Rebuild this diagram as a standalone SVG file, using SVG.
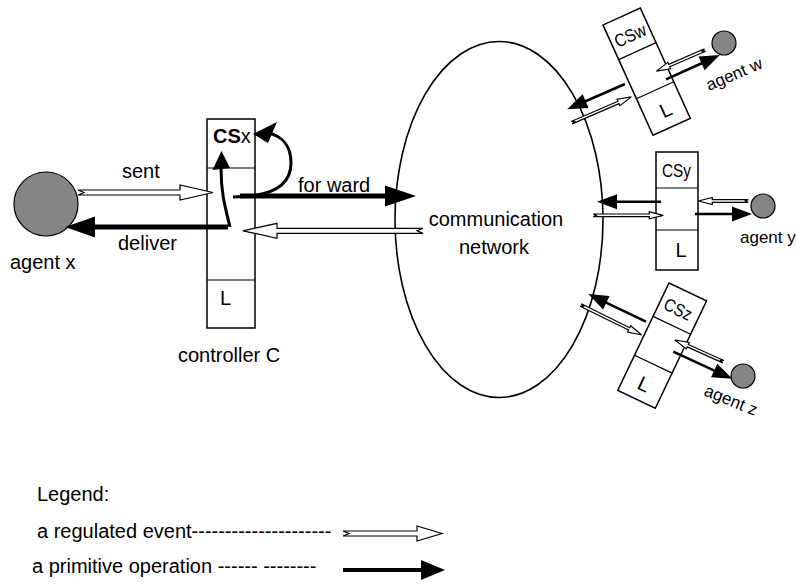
<svg xmlns="http://www.w3.org/2000/svg" width="796" height="587" viewBox="0 0 796 587">
  <style>
    .t{font-family:"Liberation Sans",Arial,Helvetica,sans-serif;font-size:20px;fill:#000}
    .sm{font-size:18px}
    .ag{font-size:17px}
    .box{fill:#fff;stroke:#000;stroke-width:1.5}
    .div{stroke:#000;stroke-width:1.2}
    .agent{fill:#858585;stroke:#000;stroke-width:1.2}
    .reg{fill:#fff;stroke:#000;stroke-width:1.2;stroke-linejoin:miter}
    .op{stroke:#000;fill:none}
    .big{stroke-width:5}
    .small{stroke-width:2.5}
    .curve{stroke-width:3}
    .head{fill:#000;stroke:none}
  </style>

  <rect width="796" height="587" fill="#fff"/>

  <!-- communication network -->
  <g id="network">
    <ellipse cx="499" cy="219.5" rx="104" ry="178" fill="none" stroke="#000" stroke-width="1.6"/>
    <text class="t" x="496" y="226" text-anchor="middle">communication</text>
    <text class="t" x="494" y="254" text-anchor="middle">network</text>
  </g>

  <!-- agent x -->
  <g id="agent-x">
    <circle class="agent" cx="46" cy="204" r="32"/>
    <text class="t" x="10" y="269">agent x</text>
  </g>

  <!-- controller C with its control state CSx and log L -->
  <g id="controller-c">
    <rect class="box" x="207" y="119" width="48" height="209"/>
    <line class="div" x1="207" y1="168" x2="255" y2="168"/>
    <line class="div" x1="207" y1="280" x2="255" y2="280"/>
    <text class="t" x="213" y="143"><tspan font-weight="bold">CS</tspan><tspan>x</tspan></text>
    <text class="t" x="220" y="305" font-size="16">L</text>
    <text class="t" x="178" y="362">controller C</text>
  </g>

  <!-- CSw -->
  <g id="cs-w" transform="translate(603,25) rotate(-24.4)">
    <rect class="box" x="0" y="0" width="41" height="121"/>
    <line class="div" x1="0" y1="38" x2="41" y2="38"/>
    <line class="div" x1="0" y1="81" x2="41" y2="81"/>
    <text class="t sm" x="4" y="27" textLength="33" lengthAdjust="spacingAndGlyphs">CSw</text>
    <text class="t" x="22" y="110" font-size="21" text-anchor="middle">L</text>
  </g>

  <!-- CSy -->
  <g id="cs-y">
    <rect class="box" x="656" y="152" width="42" height="118"/>
    <line class="div" x1="656" y1="188" x2="698" y2="188"/>
    <line class="div" x1="656" y1="230" x2="698" y2="230"/>
    <text class="t sm" x="662" y="177" textLength="29" lengthAdjust="spacingAndGlyphs">CSy</text>
    <text class="t" x="681" y="257" font-size="21" text-anchor="middle">L</text>
  </g>

  <!-- CSz -->
  <g id="cs-z" transform="translate(669,283) rotate(25.5)">
    <rect class="box" x="0" y="0" width="41.6" height="119"/>
    <line class="div" x1="0" y1="37" x2="41.6" y2="37"/>
    <line class="div" x1="0" y1="80" x2="41.6" y2="80"/>
    <text class="t sm" x="5" y="26" textLength="29" lengthAdjust="spacingAndGlyphs">CSz</text>
    <text class="t" x="21" y="109" font-size="21" text-anchor="middle">L</text>
  </g>

  <!-- remote agents -->
  <g id="agent-w">
    <circle class="agent" cx="724" cy="43" r="12"/>
    <text class="t ag" transform="translate(709,91) rotate(-23)">agent w</text>
  </g>
  <g id="agent-y">
    <circle class="agent" cx="763" cy="206" r="12"/>
    <text class="t ag" x="740" y="243">agent y</text>
  </g>
  <g id="agent-z">
    <circle class="agent" cx="743" cy="376" r="12"/>
    <text class="t ag" transform="translate(703,395) rotate(22)">agent z</text>
  </g>

  <!-- connectors -->
  <g id="connectors">
    <!-- sent (regulated event) -->
    <polygon class="reg" transform="translate(78,192.5)" points="0,-2.5 102,-2.5 102,-7.5 135,0 102,7.5 102,2.5 0,2.5 6,0"/>
    <text class="t" x="122" y="178">sent</text>
    <!-- deliver (primitive operation) -->
    <g transform="translate(228,227) rotate(180)">
      <line class="op big" x1="0" y1="0" x2="135" y2="0"/>
      <polygon class="head" points="133,-10.5 163,0 133,10.5"/>
    </g>
    <text class="t" x="118" y="250">deliver</text>
    <!-- forward (primitive operation) -->
    <g transform="translate(240,196)">
      <line class="op big" x1="0" y1="0" x2="147" y2="0"/>
      <polygon class="head" points="145,-10.5 176,0 145,10.5"/>
    </g>
    <text class="t" x="298" y="192">for ward</text>
    <!-- incoming from network (regulated event) -->
    <polygon class="reg" transform="translate(423,230.8) rotate(180)" points="0,-2.5 146,-2.5 146,-7.5 180,0 146,7.5 146,2.5 0,2.5 6,0"/>
    <!-- internal updates of CSx -->
    <path class="op curve" d="M233,197 C268,197 291,188 291,163 C291,147 283,136 268,133"/>
    <polygon class="head" points="253,134 277,122 268,143"/>
    <path class="op curve" d="M230,227 C226,210 221,195 221,168"/>
    <polygon class="head" points="221.5,151 212.5,170 230,168"/>

    <!-- CSw links -->
    <g transform="translate(625,84) rotate(156.4)">
      <line class="op small" x1="0" y1="0" x2="45" y2="0"/>
      <polygon class="head" points="43,-7.5 63,0 43,7.5"/>
    </g>
    <polygon class="reg" transform="translate(571.7,122.7) rotate(-23.4)" points="0,-1.3 51,-1.3 51,-3.5 65,0 51,3.5 51,1.3 0,1.3 3,0"/>
    <polygon class="reg" transform="translate(705,50) rotate(156.5)" points="0,-1.3 39,-1.3 39,-3.5 53,0 39,3.5 39,1.3 0,1.3 3,0"/>
    <g transform="translate(666,79.3) rotate(-24.2)">
      <line class="op small" x1="0" y1="0" x2="41" y2="0"/>
      <polygon class="head" points="39,-7.5 59,0 39,7.5"/>
    </g>

    <!-- CSy links -->
    <g transform="translate(661,201.7) rotate(180)">
      <line class="op small" x1="0" y1="0" x2="46" y2="0"/>
      <polygon class="head" points="44,-7.5 64,0 44,7.5"/>
    </g>
    <polygon class="reg" transform="translate(593.3,215.3)" points="0,-1.3 56,-1.3 56,-3.5 70,0 56,3.5 56,1.3 0,1.3 3,0"/>
    <polygon class="reg" transform="translate(748.3,201) rotate(180)" points="0,-1.3 36,-1.3 36,-3.5 50,0 36,3.5 36,1.3 0,1.3 3,0"/>
    <g transform="translate(695,214)">
      <line class="op small" x1="0" y1="0" x2="39" y2="0"/>
      <polygon class="head" points="37,-7.5 57,0 37,7.5"/>
    </g>

    <!-- CSz links -->
    <g transform="translate(646,321.7) rotate(-154.4)">
      <line class="op small" x1="0" y1="0" x2="46" y2="0"/>
      <polygon class="head" points="44,-7.5 64,0 44,7.5"/>
    </g>
    <polygon class="reg" transform="translate(580.7,305) rotate(26.2)" points="0,-1.3 54,-1.3 54,-3.5 68,0 54,3.5 54,1.3 0,1.3 3,0"/>
    <polygon class="reg" transform="translate(723.3,361.7) rotate(-155.8)" points="0,-1.3 39,-1.3 39,-3.5 53,0 39,3.5 39,1.3 0,1.3 3,0"/>
    <g transform="translate(673.3,351.7) rotate(24.7)">
      <line class="op small" x1="0" y1="0" x2="47" y2="0"/>
      <polygon class="head" points="45,-7.5 65,0 45,7.5"/>
    </g>
  </g>

  <!-- legend -->
  <g id="legend">
    <text class="t" x="37" y="501">Legend:</text>
    <text class="t" x="37" y="538">a regulated event---------------------</text>
    <polygon class="reg" transform="translate(343,533.5)" points="0,-2.5 74,-2.5 74,-7.5 99,0 74,7.5 74,2.5 0,2.5 6,0"/>
    <text class="t" x="32" y="573">a primitive operation ------ --------</text>
    <g transform="translate(343,570)">
      <line class="op" stroke-width="4" x1="0" y1="0" x2="80" y2="0"/>
      <polygon class="head" points="78,-10 102,0 78,10"/>
    </g>
  </g>
</svg>
